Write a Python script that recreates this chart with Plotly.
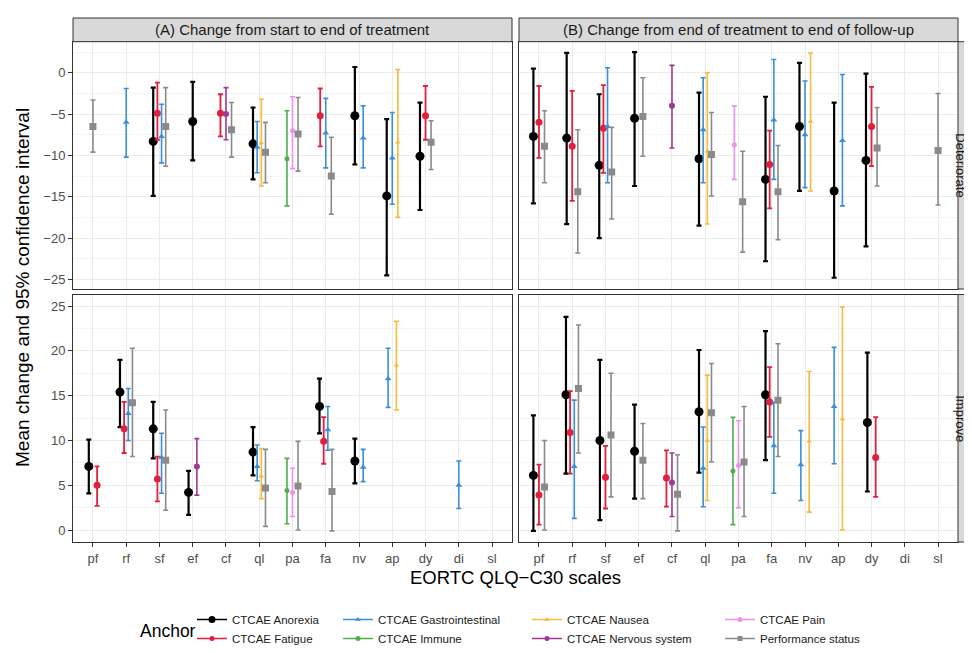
import plotly.graph_objects as go

W, H = 972, 653
OFF = 8  # the page body margin shifts the figure by this many pixels
FONT = "Liberation Sans, Arial, sans-serif"

CATEGORIES = ["pf", "rf", "sf", "ef", "cf", "ql", "pa", "fa", "nv", "ap", "dy", "di", "sl"]
SERIES_KEYS = ["ano", "fat", "gas", "imm", "nau", "ner", "pai", "per"]
SERIES_LABELS = ["CTCAE Anorexia", "CTCAE Fatigue", "CTCAE Gastrointestinal", "CTCAE Immune",
                 "CTCAE Nausea", "CTCAE Nervous system", "CTCAE Pain", "Performance status"]
SERIES_COLORS = ["#000000", "#E0203C", "#3A8FD8", "#4DAF4A", "#F7BB3A", "#9C3A96", "#EE90EE", "#8A8A8A"]
SERIES_SYMBOLS = ["circle", "circle", "triangle-up", "circle", "triangle-up", "circle", "circle", "square"]
SERIES_SIZES = [9, 7, 6, 5, 5, 6, 5, 7]
SERIES_WIDTHS = [2.2, 1.8, 1.6, 1.6, 1.6, 1.6, 1.6, 1.6]

STRIP_COLS = ["(A) Change from start to end of treatment",
              "(B) Change from end of treatment to end of follow-up"]
STRIP_ROWS = ["Deteriorate", "Improve"]

# records: (series, scale, mean, lower, upper)
A_DETERIORATE = [
    ("per", "pf", -6.5, -9.6, -3.3),
    ("gas", "rf", -6.0, -10.2, -1.9),
    ("ano", "sf", -8.3, -14.9, -1.8),
    ("fat", "sf", -4.9, -8.1, -1.2),
    ("gas", "sf", -7.7, -10.9, -3.8),
    ("per", "sf", -6.5, -11.3, -1.8),
    ("ano", "ef", -5.9, -10.6, -1.1),
    ("fat", "cf", -4.9, -7.7, -2.6),
    ("ner", "cf", -5.0, -8.1, -1.8),
    ("per", "cf", -6.9, -10.2, -3.6),
    ("ano", "ql", -8.6, -12.9, -4.2),
    ("gas", "ql", -9.0, -12.1, -5.9),
    ("nau", "ql", -8.5, -13.7, -3.2),
    ("per", "ql", -9.6, -13.3, -6.0),
    ("imm", "pa", -10.4, -16.1, -4.6),
    ("pai", "pa", -7.0, -11.6, -2.9),
    ("per", "pa", -7.4, -11.9, -3.0),
    ("fat", "fa", -5.2, -8.9, -1.9),
    ("gas", "fa", -7.3, -11.5, -3.1),
    ("per", "fa", -12.5, -17.1, -7.8),
    ("ano", "nv", -5.2, -11.1, 0.7),
    ("gas", "nv", -7.9, -11.5, -4.0),
    ("ano", "ap", -14.9, -24.5, -5.6),
    ("gas", "ap", -10.3, -15.9, -4.8),
    ("nau", "ap", -8.4, -17.5, 0.4),
    ("ano", "dy", -10.1, -16.6, -3.6),
    ("fat", "dy", -5.2, -8.1, -1.6),
    ("per", "dy", -8.4, -11.7, -5.8),
]

B_DETERIORATE = [
    ("ano", "pf", -7.7, -15.8, 0.5),
    ("fat", "pf", -6.0, -10.3, -1.6),
    ("per", "pf", -8.9, -13.3, -4.6),
    ("ano", "rf", -7.9, -18.3, 2.4),
    ("fat", "rf", -8.9, -15.5, -2.2),
    ("per", "rf", -14.4, -21.8, -6.9),
    ("ano", "sf", -11.2, -20.0, -2.6),
    ("fat", "sf", -6.7, -12.1, -1.5),
    ("gas", "sf", -6.5, -13.3, 0.6),
    ("per", "sf", -12.0, -17.7, -6.6),
    ("ano", "ef", -5.5, -13.7, 2.5),
    ("per", "ef", -5.3, -10.1, -0.6),
    ("ner", "cf", -4.0, -9.1, 0.9),
    ("ano", "ql", -10.4, -18.5, -2.4),
    ("gas", "ql", -6.9, -13.3, -0.6),
    ("nau", "ql", -9.5, -18.3, 0.0),
    ("per", "ql", -9.9, -14.9, -4.8),
    ("pai", "pa", -8.7, -12.9, -4.0),
    ("per", "pa", -15.6, -21.7, -9.5),
    ("ano", "fa", -12.9, -22.8, -2.9),
    ("fat", "fa", -11.1, -16.4, -7.0),
    ("gas", "fa", -5.7, -12.9, 1.6),
    ("per", "fa", -14.4, -20.2, -8.8),
    ("ano", "nv", -6.5, -14.3, 1.2),
    ("gas", "nv", -7.5, -13.9, -1.0),
    ("nau", "nv", -5.9, -14.3, 2.4),
    ("ano", "ap", -14.3, -24.8, -3.6),
    ("gas", "ap", -8.2, -16.1, -0.2),
    ("ano", "dy", -10.6, -21.0, -0.1),
    ("fat", "dy", -6.5, -11.3, -1.7),
    ("per", "dy", -9.1, -13.7, -4.2),
    ("per", "sl", -9.4, -16.0, -2.5),
]

A_IMPROVE = [
    ("ano", "pf", 7.1, 4.1, 10.1),
    ("fat", "pf", 5.0, 2.7, 7.1),
    ("ano", "rf", 15.4, 11.5, 19.0),
    ("fat", "rf", 11.3, 8.6, 14.3),
    ("gas", "rf", 13.0, 10.0, 15.8),
    ("per", "rf", 14.2, 8.2, 20.3),
    ("ano", "sf", 11.3, 8.0, 14.3),
    ("fat", "sf", 5.7, 3.2, 8.2),
    ("gas", "sf", 8.1, 4.1, 10.8),
    ("per", "sf", 7.8, 2.2, 13.4),
    ("ano", "ef", 4.2, 1.7, 6.6),
    ("ner", "ef", 7.1, 3.9, 10.2),
    ("ano", "ql", 8.7, 6.1, 11.5),
    ("gas", "ql", 7.1, 5.5, 9.5),
    ("nau", "ql", 6.0, 3.5, 9.1),
    ("per", "ql", 4.7, 0.4, 9.0),
    ("imm", "pa", 4.4, 0.7, 8.0),
    ("pai", "pa", 4.2, 1.5, 6.9),
    ("per", "pa", 4.9, 0.0, 9.9),
    ("ano", "fa", 13.8, 10.8, 16.9),
    ("fat", "fa", 9.9, 7.4, 12.6),
    ("gas", "fa", 11.2, 8.9, 13.8),
    ("per", "fa", 4.3, -0.1, 9.0),
    ("ano", "nv", 7.7, 5.2, 10.2),
    ("gas", "nv", 7.0, 5.4, 9.0),
    ("gas", "ap", 16.9, 13.7, 20.3),
    ("nau", "ap", 18.4, 13.4, 23.3),
    ("gas", "di", 5.0, 2.4, 7.7),
]

B_IMPROVE = [
    ("ano", "pf", 6.1, -0.1, 12.8),
    ("fat", "pf", 3.9, 0.6, 7.3),
    ("per", "pf", 4.8, 0.0, 10.0),
    ("ano", "rf", 15.1, 6.3, 23.8),
    ("fat", "rf", 10.9, 6.3, 15.5),
    ("gas", "rf", 7.1, 1.3, 14.5),
    ("per", "rf", 15.8, 8.6, 22.9),
    ("ano", "sf", 10.0, 1.1, 19.0),
    ("fat", "sf", 5.9, 2.4, 9.4),
    ("per", "sf", 10.6, 3.7, 17.5),
    ("ano", "ef", 8.8, 3.5, 14.0),
    ("per", "ef", 7.8, 3.5, 11.9),
    ("fat", "cf", 5.8, 2.6, 8.9),
    ("ner", "cf", 5.3, 1.5, 8.6),
    ("per", "cf", 4.0, -0.1, 8.4),
    ("ano", "ql", 13.2, 6.4, 20.1),
    ("gas", "ql", 6.9, 2.6, 11.5),
    ("nau", "ql", 10.0, 3.3, 17.3),
    ("per", "ql", 13.1, 7.6, 18.6),
    ("imm", "pa", 6.6, 0.6, 12.6),
    ("pai", "pa", 7.2, 2.5, 12.2),
    ("per", "pa", 7.6, 1.5, 13.8),
    ("ano", "fa", 15.1, 7.8, 22.2),
    ("fat", "fa", 14.3, 10.4, 18.2),
    ("gas", "fa", 9.4, 4.1, 14.3),
    ("per", "fa", 14.5, 8.2, 20.8),
    ("gas", "nv", 7.3, 3.3, 11.1),
    ("nau", "nv", 9.9, 2.0, 17.7),
    ("gas", "ap", 13.8, 7.4, 20.4),
    ("nau", "ap", 12.4, 0.0, 24.9),
    ("ano", "dy", 12.0, 4.3, 19.8),
    ("fat", "dy", 8.1, 3.7, 12.6),
]

TOP_TICKS = [0, -5, -10, -15, -20, -25]
BOTTOM_TICKS = [0, 5, 10, 15, 20, 25]
TOP_RANGE = [-26.16, 3.76]
BOTTOM_RANGE = [-1.34, 26.3]
DODGE_WIDTH = 0.5

# ---------------- layout geometry (screen pixels of the reference) ----------------
PX_L = (73, 512)
PX_R = (519, 958)
PY_T = (41.7, 289)
PY_B = (294.5, 542)
STRIP_TOP = 18


def px(x):
    return (x - OFF) / W


def py(y):
    return (H - (y - OFF)) / H


fig = go.Figure()

panels = [
    ("x", "y", A_DETERIORATE),
    ("x2", "y2", B_DETERIORATE),
    ("x3", "y3", A_IMPROVE),
    ("x4", "y4", B_IMPROVE),
]

for xa, ya, records in panels:
    by_cat = {}
    for rec in records:
        by_cat.setdefault(rec[1], []).append(rec[0])
    for si, key in enumerate(SERIES_KEYS):
        xs, ys, ep, em = [], [], [], []
        for s, c, m, lo, hi in records:
            if s != key:
                continue
            group = sorted(by_cat[c], key=SERIES_KEYS.index)
            n = len(group)
            i = group.index(s)
            xs.append(CATEGORIES.index(c) + (i - (n - 1) / 2) * DODGE_WIDTH / n)
            ys.append(m)
            ep.append(hi - m)
            em.append(m - lo)
        if not xs:
            continue
        fig.add_trace(go.Scatter(
            x=xs, y=ys, xaxis=xa, yaxis=ya, mode="markers",
            marker=dict(color=SERIES_COLORS[si], symbol=SERIES_SYMBOLS[si], size=SERIES_SIZES[si],
                        line=dict(width=0)),
            error_y=dict(type="data", symmetric=False, array=ep, arrayminus=em,
                         color=SERIES_COLORS[si], thickness=SERIES_WIDTHS[si], width=2.5),
            showlegend=False, hoverinfo="skip",
        ))

# legend-only entries, arranged in 4 columns of 2 rows (column-major, like ggplot)
legend_names = ["legend", "legend", "legend2", "legend2", "legend3", "legend3", "legend4", "legend4"]
for si, key in enumerate(SERIES_KEYS):
    fig.add_trace(go.Scatter(
        x=[None], y=[None], mode="lines+markers", name=SERIES_LABELS[si],
        legend=legend_names[si],
        line=dict(color=SERIES_COLORS[si], width=1.5),
        marker=dict(color=SERIES_COLORS[si], symbol=SERIES_SYMBOLS[si], size=max(SERIES_SIZES[si] - 2, 5)),
        showlegend=True,
    ))

grid = "#EBEBEB"
border = "#333333"
tickfont = dict(family=FONT, size=13, color="#4D4D4D")

common_x = dict(range=[-0.6, 12.6], tickmode="array", tickvals=list(range(len(CATEGORIES))),
                ticktext=CATEGORIES, showgrid=True, gridcolor=grid, gridwidth=1,
                showline=True, mirror=True, linecolor=border, linewidth=1, zeroline=False,
                tickfont=tickfont)


def yaxis_conf(domain, anchor, rng, ticks, labels):
    d = dict(domain=domain, anchor=anchor, range=rng, tickmode="array", tickvals=ticks,
             ticktext=[str(t).replace("-", "\u2212") for t in ticks],
             showgrid=True, gridcolor=grid, gridwidth=1,
             minor=dict(dtick=2.5, tick0=0, showgrid=True, gridcolor="#F4F4F4", gridwidth=0.6, ticks=""),
             showline=True, mirror=True, linecolor=border, linewidth=1, zeroline=False,
             tickfont=tickfont)
    if labels:
        d.update(ticks="outside", ticklen=4, tickcolor=border, tickwidth=1, showticklabels=True)
    else:
        d.update(ticks="", showticklabels=False)
    return d


XL = [px(PX_L[0]), px(PX_L[1])]
XR = [px(PX_R[0]), px(PX_R[1])]
YT = [py(PY_T[1]), py(PY_T[0])]
YB = [py(PY_B[1]), py(PY_B[0])]

fig.update_layout(
    width=W, height=H, margin=dict(l=0, r=0, t=0, b=0),
    paper_bgcolor="white", plot_bgcolor="white",
    font=dict(family=FONT, size=11, color="#1A1A1A"),
    xaxis=dict(common_x, domain=XL, anchor="y", showticklabels=False, ticks=""),
    xaxis2=dict(common_x, domain=XR, anchor="y2", showticklabels=False, ticks=""),
    xaxis3=dict(common_x, domain=XL, anchor="y3", showticklabels=True, ticks="outside",
                ticklen=4, tickcolor=border),
    xaxis4=dict(common_x, domain=XR, anchor="y4", showticklabels=True, ticks="outside",
                ticklen=4, tickcolor=border),
    yaxis=yaxis_conf(YT, "x", TOP_RANGE, TOP_TICKS, True),
    yaxis2=yaxis_conf(YT, "x2", TOP_RANGE, TOP_TICKS, False),
    yaxis3=yaxis_conf(YB, "x3", BOTTOM_RANGE, BOTTOM_TICKS, True),
    yaxis4=yaxis_conf(YB, "x4", BOTTOM_RANGE, BOTTOM_TICKS, False),
)

leg_common = dict(orientation="v", xanchor="left", yanchor="top", y=py(605),
                  bgcolor="rgba(0,0,0,0)", font=dict(family=FONT, size=11.5, color="#1A1A1A"),
                  itemwidth=30, tracegroupgap=0, itemclick=False, itemdoubleclick=False)
fig.update_layout(
    legend=dict(leg_common, x=px(192)),
    legend2=dict(leg_common, x=px(338)),
    legend3=dict(leg_common, x=px(527)),
    legend4=dict(leg_common, x=px(720)),
)

shapes = []
annotations = []
# top strips
for (a, b), text in zip([PX_L, PX_R], STRIP_COLS):
    shapes.append(dict(type="rect", xref="paper", yref="paper", x0=px(a), x1=px(b),
                       y0=py(PY_T[0]), y1=py(STRIP_TOP),
                       fillcolor="#D9D9D9", line=dict(color=border, width=1), layer="above"))
    annotations.append(dict(text=text, xref="paper", yref="paper", x=px((a + b) / 2),
                            y=py((STRIP_TOP + PY_T[0]) / 2), showarrow=False,
                            xanchor="center", yanchor="middle",
                            font=dict(family=FONT, size=15, color="#1A1A1A")))
# right strips
for (t, b), text in zip([PY_T, PY_B], STRIP_ROWS):
    shapes.append(dict(type="rect", xref="paper", yref="paper", x0=px(PX_R[1]), x1=px(990),
                       y0=py(b), y1=py(t),
                       fillcolor="#D9D9D9", line=dict(color=border, width=1), layer="above"))
    annotations.append(dict(text=text, xref="paper", yref="paper", x=px(961),
                            y=py((t + b) / 2), showarrow=False, textangle=90,
                            xanchor="center", yanchor="middle",
                            font=dict(family=FONT, size=13, color="#1A1A1A")))

annotations.append(dict(text="Mean change and 95% confidence interval", xref="paper", yref="paper",
                        x=px(22), y=py(288), showarrow=False,
                        textangle=-90, xanchor="center", yanchor="middle",
                        font=dict(family=FONT, size=19, color="#000000")))
annotations.append(dict(text="EORTC QLQ\u2212C30 scales", xref="paper", yref="paper",
                        x=px(515), y=py(577), showarrow=False,
                        xanchor="center", yanchor="middle",
                        font=dict(family=FONT, size=18.5, color="#000000")))
annotations.append(dict(text="Anchor", xref="paper", yref="paper",
                        x=px(168), y=py(631), showarrow=False,
                        xanchor="center", yanchor="middle",
                        font=dict(family=FONT, size=17.5, color="#000000")))

fig.update_layout(shapes=shapes, annotations=annotations)

fig.write_html("out.html")
